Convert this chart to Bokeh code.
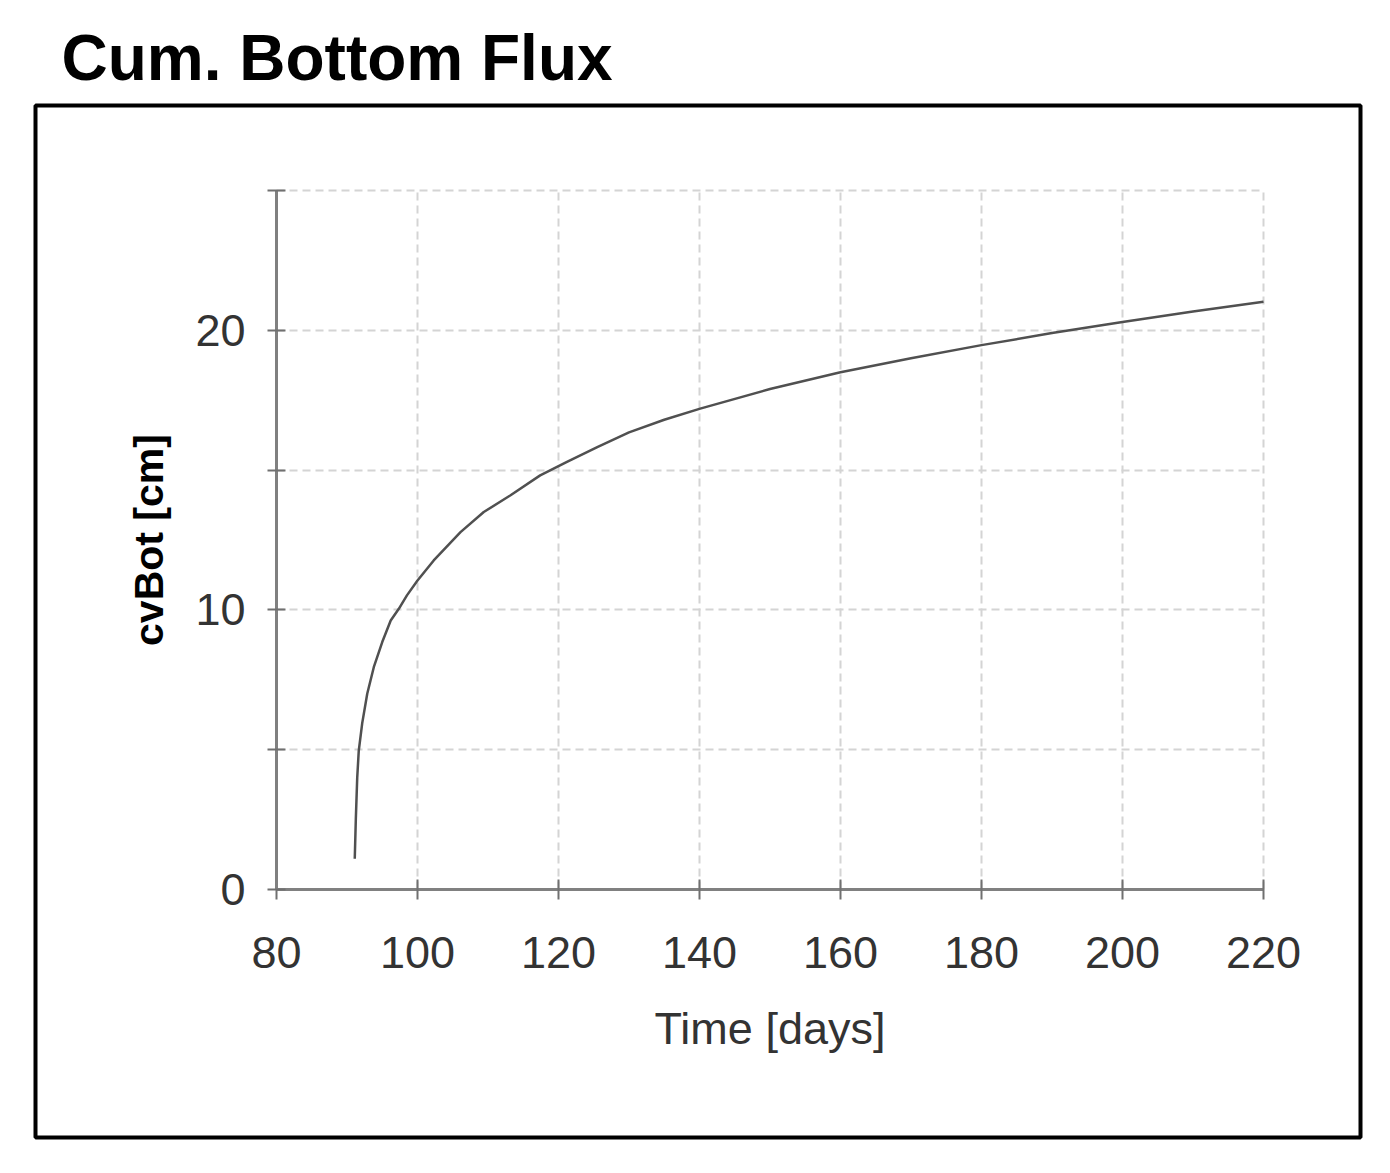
from bokeh.plotting import figure
from bokeh.models import FixedTicker, Range1d, LinearAxis, Grid
from bokeh.embed import file_html
from bokeh.resources import INLINE

# Data
time_days = [91.1, 91.25, 91.45, 91.67, 92.16, 92.87, 93.8, 95.0, 96.2, 97.35,
             98.5, 100.0, 102.3, 106.1, 109.4, 113.2, 117.4, 121.2, 125.5, 130.0,
             135.0, 140.1, 150.0, 160.0, 170.0, 180.0, 190.0, 200.0, 210.0, 220.0]
cvbot_cm = [1.1, 2.5, 4.0, 4.97, 5.95, 7.0, 7.95, 8.85, 9.62, 10.04,
            10.52, 11.05, 11.77, 12.78, 13.5, 14.1, 14.81, 15.29, 15.82, 16.35,
            16.8, 17.2, 17.9, 18.5, 19.0, 19.47, 19.9, 20.3, 20.67, 21.02]
x_ticks = [80, 100, 120, 140, 160, 180, 200, 220]
y_ticks = [0, 5, 10, 15, 20, 25]
y_hidden_labels = [5, 15, 25]

W, H = 1375, 1160
FONT = "Liberation Sans"
# outer box (frame) in pixels
BOX_L, BOX_R, BOX_T, BOX_B = 35, 1360, 105, 1137
# axis origin / extents in pixels
AX_L, AX_R, AX_B, AX_T = 276, 1263, 889, 190

# data ranges chosen so the axes sit inside the outer box
px_per_x = (AX_R - AX_L) / (x_ticks[-1] - x_ticks[0])
px_per_y = (AX_B - AX_T) / (y_ticks[-1] - y_ticks[0])
x0 = x_ticks[0] - (AX_L - BOX_L) / px_per_x
x1 = x_ticks[0] + (BOX_R - AX_L) / px_per_x
y0 = y_ticks[0] - (BOX_B - AX_B) / px_per_y
y1 = y_ticks[0] + (AX_B - BOX_T) / px_per_y

p = figure(width=W, height=H, output_backend="svg", toolbar_location=None,
           x_range=Range1d(x0, x1), y_range=Range1d(y0, y1),
           x_axis_type=None, y_axis_type=None,
           min_border_left=BOX_L, min_border_right=W - BOX_R,
           min_border_top=BOX_T, min_border_bottom=H - BOX_B)
p.outline_line_color = "black"
p.outline_line_width = 4
p.background_fill_color = "white"
p.border_fill_color = "white"

# Title
p.title.text = "Cum. Bottom Flux"
p.title.text_font = FONT
p.title.text_font_size = "64px"
p.title.text_font_style = "bold"
p.title.text_color = "black"
p.title.standoff = 24
p.title.offset = 26

# Axes, placed inside the frame
xax = LinearAxis(fixed_location=y_ticks[0], bounds=(x_ticks[0], x_ticks[-1]),
                 ticker=FixedTicker(ticks=x_ticks))
yax = LinearAxis(fixed_location=x_ticks[0], bounds=(y_ticks[0], y_ticks[-1]),
                 ticker=FixedTicker(ticks=y_ticks))
for ax in (xax, yax):
    ax.axis_line_color = "#808080"
    ax.axis_line_width = 3
    ax.major_tick_line_color = "#707070"
    ax.major_tick_line_width = 2
    ax.minor_tick_line_color = None
    ax.major_label_text_font = FONT
    ax.major_label_text_font_size = "45px"
    ax.major_label_text_color = "#333333"
    ax.axis_label_text_font = FONT

xax.major_tick_in = 10
xax.major_tick_out = 10
xax.major_label_standoff = 37
xax.axis_label = "Time [days]"
xax.axis_label_text_font_size = "45px"
xax.axis_label_text_font_style = "normal"
xax.axis_label_text_color = "#333333"
xax.axis_label_standoff = 32

yax.major_tick_in = 9
yax.major_tick_out = 9
yax.major_label_standoff = 22
yax.major_label_orientation = "horizontal"
yax.major_label_overrides = {v: "" for v in y_hidden_labels}
yax.axis_label = "cvBot [cm]"
yax.axis_label_text_font_size = "41px"
yax.axis_label_text_font_style = "bold"
yax.axis_label_text_color = "black"
yax.axis_label_standoff = 20

p.add_layout(xax, "below")
p.add_layout(yax, "left")

# Grid
xgrid = Grid(dimension=0, ticker=FixedTicker(ticks=x_ticks[1:]))
ygrid = Grid(dimension=1, ticker=FixedTicker(ticks=y_ticks[1:]))
has_cross = "cross_bounds" in Grid.properties()
for g in (xgrid, ygrid):
    g.grid_line_color = "#d4d4d4"
    g.grid_line_width = 2
    g.grid_line_dash = "8 5"
if has_cross:
    xgrid.cross_bounds = (y_ticks[0], y_ticks[-1])
    ygrid.cross_bounds = (x_ticks[0], x_ticks[-1])
    p.add_layout(xgrid)
    p.add_layout(ygrid)
else:
    gx = x_ticks[1:]
    p.segment(x0=gx, x1=gx, y0=[y_ticks[0]] * len(gx), y1=[y_ticks[-1]] * len(gx),
              line_color="#d4d4d4", line_width=2, line_dash="8 5")
    gy = y_ticks[1:]
    p.segment(x0=[x_ticks[0]] * len(gy), x1=[x_ticks[-1]] * len(gy), y0=gy, y1=gy,
              line_color="#d4d4d4", line_width=2, line_dash="8 5")

# Curve
p.line(time_days, cvbot_cm, line_color="#505050", line_width=2.5)

open("out.html", "w").write(file_html(p, INLINE))
